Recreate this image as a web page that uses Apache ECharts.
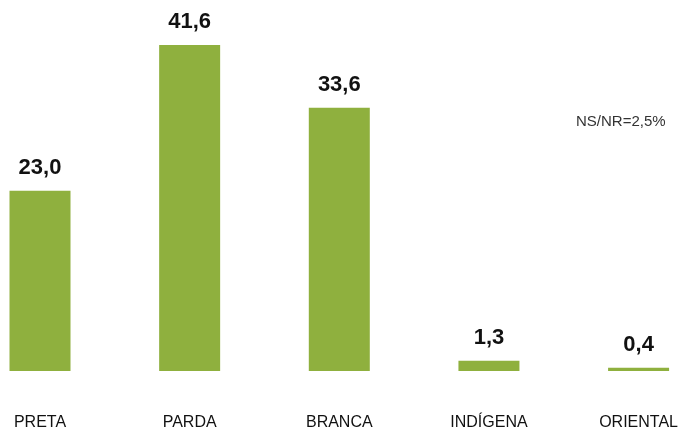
<!DOCTYPE html>
<html>
<head>
<meta charset="utf-8">
<script src="https://cdn.jsdelivr.net/npm/echarts@6/dist/echarts.min.js"></script>
<style>
  html, body { margin: 0; padding: 0; background: #ffffff; }
  #chart { width: 681px; height: 431px; }
</style>
</head>
<body>
<div id="chart"></div>
<script>
// Distribuição por cor/raça (%)
const categories = ['PRETA', 'PARDA', 'BRANCA', 'INDÍGENA', 'ORIENTAL'];
const values = [23.0, 41.6, 33.6, 1.3, 0.4];
const note = 'NS/NR=2,5%';

const chart = echarts.init(document.getElementById('chart'), null, { renderer: 'canvas' });

chart.setOption({
  animation: false,
  backgroundColor: '#ffffff',
  // bars sit on the ticks, so the first and last columns reach the edges
  grid: { left: 40, right: 39, top: 45, bottom: 57 },
  xAxis: {
    type: 'category',
    data: categories,
    boundaryGap: false,
    axisLine: { show: false },
    axisTick: { show: false },
    axisLabel: {
      margin: 44,
      fontFamily: 'Liberation Sans, Arial, sans-serif',
      fontSize: 16,
      color: '#111111',
      interval: 0,
      hideOverlap: false
    }
  },
  yAxis: {
    type: 'value',
    min: 0,
    max: 41.6,
    show: false,
    splitLine: { show: false }
  },
  series: [{
    type: 'bar',
    data: values,
    barWidth: 61,
    itemStyle: { color: '#8fb03e' },
    label: {
      show: true,
      position: 'top',
      distance: 12,
      fontFamily: 'Liberation Sans, Arial, sans-serif',
      fontWeight: 'bold',
      fontSize: 22,
      color: '#111111',
      formatter: p => p.value.toFixed(1).replace('.', ',')
    }
  }],
  graphic: [{
    type: 'text',
    left: 576,
    top: 114,
    style: {
      text: note,
      font: '15px Liberation Sans, Arial, sans-serif',
      fill: '#333333'
    }
  }]
});
</script>
</body>
</html>
